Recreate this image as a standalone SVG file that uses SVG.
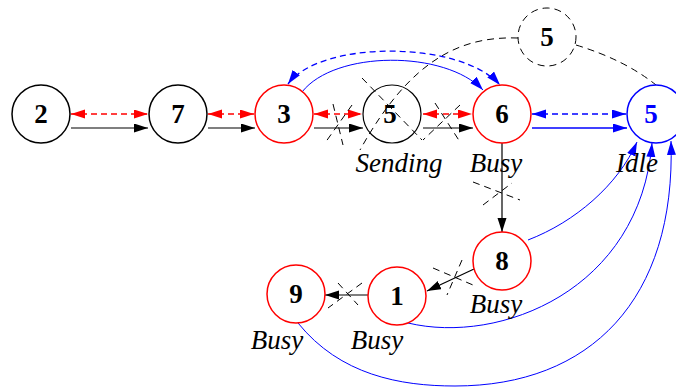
<svg xmlns="http://www.w3.org/2000/svg" width="676" height="387" viewBox="0 0 676 387">
<style>
.n{fill:#fff;stroke-width:1.5}
.blk{stroke:#000}
.red{stroke:#f00}
.blu{stroke:#00f}
.num{font-family:"Liberation Serif",serif;font-weight:bold;font-size:27px;text-anchor:middle}
.lbl{font-family:"Liberation Serif",serif;font-style:italic;font-size:27px;text-anchor:middle}
.c{fill:none}
.dR{stroke:#f00;stroke-dasharray:6 4;stroke-width:1.3}
.dB{stroke:#00f;stroke-dasharray:6 4;stroke-width:1.3}
.dK{stroke:#000;stroke-dasharray:7 5;stroke-width:1}
.sK{stroke:#000;stroke-width:1.2}
.sB{stroke:#00f;stroke-width:1}
</style>
<defs>
<marker id="aK" markerUnits="userSpaceOnUse" markerWidth="15" markerHeight="10" refX="14" refY="4.5" orient="auto-start-reverse"><path d="M0,0 L14,4.5 L0,9 z" fill="#000"/></marker>
<marker id="aR" markerUnits="userSpaceOnUse" markerWidth="15" markerHeight="10" refX="14" refY="4.5" orient="auto-start-reverse"><path d="M0,0 L14,4.5 L0,9 z" fill="#f00"/></marker>
<marker id="aB" markerUnits="userSpaceOnUse" markerWidth="15" markerHeight="10" refX="14" refY="4.5" orient="auto-start-reverse"><path d="M0,0 L14,4.5 L0,9 z" fill="#00f"/></marker>
</defs>
<g id="connectors">
<line class="c dR" x1="71" y1="114" x2="148" y2="114" marker-start="url(#aR)" marker-end="url(#aR)"/>
<line class="c dR" x1="208" y1="114" x2="254" y2="114" marker-start="url(#aR)" marker-end="url(#aR)"/>
<line class="c dR" x1="314" y1="114" x2="362" y2="114" marker-start="url(#aR)" marker-end="url(#aR)"/>
<line class="c dR" x1="423" y1="114" x2="472" y2="114" marker-start="url(#aR)" marker-end="url(#aR)"/>
<line class="c dB" x1="532" y1="114" x2="626" y2="114" marker-start="url(#aB)" marker-end="url(#aB)"/>
<line class="c sK" x1="71" y1="128" x2="148" y2="128" marker-end="url(#aK)"/>
<line class="c sK" x1="208" y1="128" x2="255" y2="128" marker-end="url(#aK)"/>
<line class="c sK" x1="314" y1="128" x2="363" y2="128" marker-end="url(#aK)"/>
<line class="c sK" x1="423" y1="128" x2="473" y2="128" marker-end="url(#aK)"/>
<line class="c" stroke="#00f" stroke-width="1.6" x1="532" y1="128" x2="627" y2="128" marker-end="url(#aB)"/>
<line class="c sK" x1="502" y1="143" x2="502" y2="232" marker-end="url(#aK)"/>
<line class="c sK" x1="474" y1="269" x2="427" y2="291" marker-end="url(#aK)"/>
<line class="c sK" x1="368" y1="295" x2="325" y2="295" marker-end="url(#aK)"/>
<path class="c sB" d="M302,92 C335,50 445,50 483,90" marker-end="url(#aB)"/>
<path class="c dB" d="M288,84 C320,40 460,40 500,85" marker-start="url(#aB)" marker-end="url(#aB)"/>
<path class="c sB" d="M528,240 C575,222 618,185 637,142" marker-end="url(#aB)"/>
<path class="c sB" d="M408,323 C500,345 640,290 652,143" marker-end="url(#aB)"/>
<path class="c sB" d="M298,323 C340,375 400,386 455,386 C590,386 676,300 671,141" marker-end="url(#aB)"/>
<path class="c dK" d="M518,38 C460,36 410,60 360,150"/>
<path class="c dK" d="M576,45 Q625,60 656,85"/>
<line class="c dK" x1="362" y1="78" x2="422" y2="140"/>
<line class="c dK" x1="333" y1="104" x2="343" y2="145"/>
<line class="c dK" x1="352" y1="105" x2="325" y2="143"/>
<line class="c dK" x1="435" y1="103" x2="460" y2="142"/>
<line class="c dK" x1="460" y1="105" x2="423" y2="140"/>
<line class="c dK" x1="473" y1="182" x2="520" y2="200"/>
<line class="c dK" x1="483" y1="205" x2="512" y2="183"/>
<line class="c dK" x1="433" y1="268" x2="473" y2="285"/>
<line class="c dK" x1="462" y1="260" x2="447" y2="295"/>
<line class="c dK" x1="338" y1="283" x2="358" y2="305"/>
<line class="c dK" x1="362" y1="283" x2="328" y2="308"/>
</g>
<g id="node-2"><circle class="n blk" cx="41" cy="114" r="29"/><text class="num" x="41" y="123">2</text></g>
<g id="node-7"><circle class="n blk" cx="178" cy="114" r="29"/><text class="num" x="178" y="123">7</text></g>
<g id="node-3"><circle class="n red" cx="284" cy="114" r="29"/><text class="num" x="284" y="123">3</text></g>
<g id="node-5-mid"><circle class="c blk" stroke-width="1.2" cx="392" cy="114" r="29"/><text class="num" x="390" y="123">5</text><text class="lbl" x="399" y="172">Sending</text></g>
<g id="node-6"><circle class="n red" cx="502" cy="114" r="29"/><text class="num" x="502" y="123">6</text><text class="lbl" x="496" y="172">Busy</text></g>
<g id="node-5-right"><circle class="n blu" stroke-width="1.2" cx="656" cy="114" r="29"/><text class="num" x="651" y="123" fill="#00f">5</text><text class="lbl" x="637" y="172">Idle</text></g>
<g id="node-5-top"><circle class="c dK" cx="547" cy="37" r="29"/><text class="num" x="547" y="46">5</text></g>
<g id="node-8"><circle class="n red" cx="502" cy="261" r="29"/><text class="num" x="502" y="270">8</text><text class="lbl" x="496" y="313">Busy</text></g>
<g id="node-1"><circle class="n red" cx="397" cy="296" r="29"/><text class="num" x="397" y="305">1</text><text class="lbl" x="377" y="349">Busy</text></g>
<g id="node-9"><circle class="n red" cx="296" cy="294" r="29"/><text class="num" x="296" y="303">9</text><text class="lbl" x="277" y="349">Busy</text></g>
</svg>
